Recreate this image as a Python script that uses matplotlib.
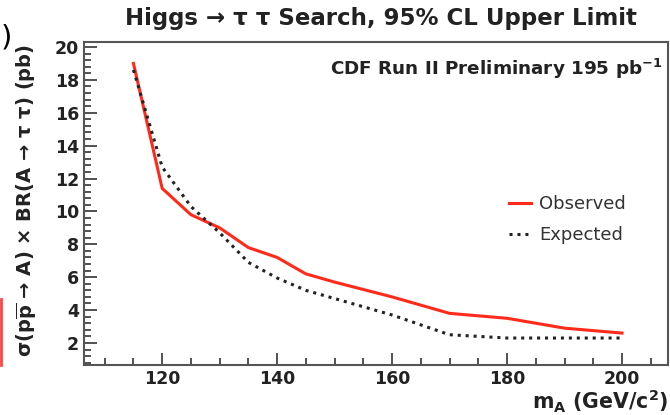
import matplotlib
matplotlib.use("Agg")
from matplotlib import pyplot as plt
from matplotlib.ticker import MultipleLocator
from matplotlib.lines import Line2D

plt.rcParams['font.family'] = ['DejaVu Sans']
plt.rcParams['mathtext.fontset'] = 'dejavusans'

# 95% CL upper limits vs. m_A
mass = [115, 120, 125, 130, 135, 140, 145, 150, 160, 170, 180, 190, 200]
observed = [19.0, 11.4, 9.8, 9.0, 7.8, 7.2, 6.2, 5.7, 4.8, 3.8, 3.5, 2.9, 2.6]
expected = [18.6, 12.7, 10.3, 8.7, 6.9, 5.95, 5.2, 4.7, 3.7, 2.5, 2.3, 2.3, 2.3]

fig = plt.figure(figsize=(6.7, 4.15), dpi=100)
ax = fig.add_axes([84 / 670, 50 / 415, 584 / 670, 323 / 415])

ax.plot(mass, observed, c="#ff2a1a", lw=2.2, label="Observed")
ax.plot(mass, expected, c="#222222", lw=2.2, ls=(0, (1, 1.6)), label="Expected")

ax.set_xlim(106.4, 208)
ax.set_ylim(0.66, 20.3)
ax.xaxis.set_major_locator(MultipleLocator(20))
ax.xaxis.set_minor_locator(MultipleLocator(5))
ax.yaxis.set_major_locator(MultipleLocator(2))
ax.yaxis.set_minor_locator(MultipleLocator(0.4))
ax.tick_params(which='both', direction='in', top=False, right=False,
               labelsize=12.5, colors='#333333', width=1.2)
ax.tick_params(which='major', length=9)
ax.tick_params(which='minor', length=5)
for lab in ax.get_xticklabels() + ax.get_yticklabels():
    lab.set_fontweight('bold')
    lab.set_color('#222222')
for sp in ax.spines.values():
    sp.set_color('#555555')
    sp.set_linewidth(1.5)

fig.text(0.569, 0.955, "Higgs \u2192 \u03c4 \u03c4 Search, 95% CL Upper Limit",
         ha='center', va='center', fontsize=16.5, fontweight='bold', color='#222222')
ax.text(0.99, 0.955, r"CDF Run II Preliminary 195 pb$^{\mathbf{-1}}$", transform=ax.transAxes,
        ha='right', va='top', fontsize=13.2, fontweight='bold', color='#222222')
ax.set_ylabel("\u03c3(p" + r"$\overline{\mathbf{p}}$" + " \u2192 A) \u00d7 BR(A \u2192 \u03c4 \u03c4) (pb)",
              fontsize=14, fontweight='bold', color='#222222')
ax.yaxis.set_label_coords(-0.077, 0.51)
fig.text(0.998, 0.0, r"m$_{\mathbf{A}}$ (GeV/c$^{\mathbf{2}}$)", ha='right', va='bottom',
         fontsize=14.8, fontweight='bold', color='#222222')

leg = ax.legend(loc='center left', bbox_to_anchor=(0.7, 0.45), frameon=False,
                fontsize=13, handlelength=1.2, handletextpad=0.45, labelspacing=0.75)
for t in leg.get_texts():
    t.set_color('#333333')

# slide leftovers at the left edge
fig.text(0.001, 0.91, ")", fontsize=21, ha='left', va='center', color='black')
fig.add_artist(Line2D([0.002, 0.002], [0.12, 0.28], color='#ff4444', lw=2))

fig.savefig("out.png", dpi=100)
